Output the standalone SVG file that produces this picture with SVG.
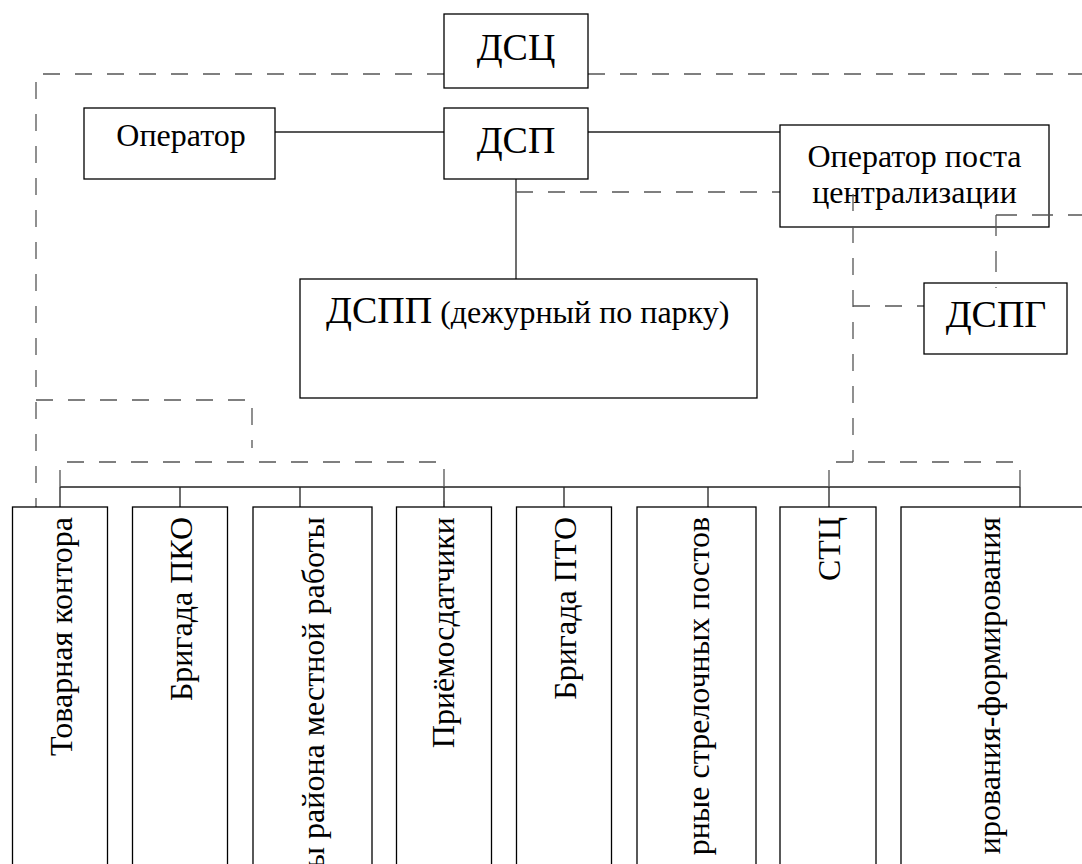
<svg xmlns="http://www.w3.org/2000/svg" width="1082" height="864" viewBox="0 0 1082 864">
<style>
.box{fill:#fff;stroke:#000;stroke-width:1.3}
.s{fill:none;stroke:#222;stroke-width:1.3}
.d{fill:none;stroke:#555;stroke-width:1.3;stroke-dasharray:17 15}
</style>
<rect width="1082" height="864" fill="#fff"/>
<g id="connectors">
<path class="s" d="M275,132H444 M588,132H780 M516,179V279"/>
<path class="s" d="M60,487H1020 M60,487V507 M180,487V507 M300,487V507 M444,487V507 M564,487V507 M708,487V507 M829,487V507 M1020,487V507"/>
<path class="d" d="M444,74H36V507"/>
<path class="d" d="M588,74H1082"/>
<path class="d" d="M36,400H252V448"/>
<path class="d" d="M60,487V462H444V507"/>
<path class="d" d="M516,192H780"/>
<path class="d" d="M829,487V462H1020V487"/>
<path class="d" d="M853,306H924"/>
</g>
<g fill="#000" font-family="Liberation Serif, Times New Roman, serif">
<g id="n-dsc"><rect class="box" x="444" y="14" width="144" height="74"/><text x="516" y="60" font-size="38" text-anchor="middle">ДСЦ</text></g>
<g id="n-operator"><rect class="box" x="84" y="108" width="191" height="71"/><text x="181" y="146" font-size="32" text-anchor="middle">Оператор</text></g>
<g id="n-dsp"><rect class="box" x="444" y="108" width="144" height="71"/><text x="516" y="153" font-size="38" text-anchor="middle">ДСП</text></g>
<g id="n-opc"><rect class="box" x="780" y="125" width="269" height="102"/><text x="914.5" y="167" font-size="32" text-anchor="middle">Оператор поста</text><text x="914.5" y="203" font-size="32" text-anchor="middle">централизации</text></g>
<g id="n-dspp"><rect class="box" x="300" y="279" width="457" height="119"/><text x="326" y="323"><tspan font-size="38">ДСПП</tspan><tspan font-size="32"> (дежурный по парку)</tspan></text></g>
<g id="n-dspg"><rect class="box" x="924" y="283" width="143" height="71"/><text x="996" y="327" font-size="38" text-anchor="middle">ДСПГ</text></g>
<g id="connectors-over">
<path class="d" d="M853,194V462"/>
<path class="d" d="M996,215H1082 M996,215V288" style="stroke-dasharray:21 15"/>
</g>
<g id="b1"><rect class="box" x="12.5" y="507" width="95" height="400"/><text font-size="32" text-anchor="end" transform="translate(72,517) rotate(-90)">Товарная контора</text></g>
<g id="b2"><rect class="box" x="132.5" y="507" width="95" height="400"/><text font-size="32" text-anchor="end" transform="translate(192,517) rotate(-90)">Бригада ПКО</text></g>
<g id="b3"><rect class="box" x="253" y="507" width="119" height="400"/><text font-size="32" text-anchor="end" transform="translate(324,517) rotate(-90)">ы района местной работы</text></g>
<g id="b4"><rect class="box" x="396.5" y="507" width="95" height="400"/><text font-size="32" text-anchor="end" transform="translate(454,517) rotate(-90)">Приёмосдатчики</text></g>
<g id="b5"><rect class="box" x="516.5" y="507" width="95" height="400"/><text font-size="32" text-anchor="end" transform="translate(576,517) rotate(-90)">Бригада ПТО</text></g>
<g id="b6"><rect class="box" x="637" y="507" width="119" height="400"/><text font-size="32" text-anchor="end" transform="translate(709,517) rotate(-90)">рные стрелочных постов</text></g>
<g id="b7"><rect class="box" x="780" y="507" width="96" height="400"/><text font-size="32" text-anchor="end" transform="translate(840,517) rotate(-90)">СТЦ</text></g>
<g id="b8"><rect class="box" x="901" y="507" width="240" height="400"/><text font-size="32" text-anchor="end" transform="translate(1000,517) rotate(-90)">ирования-формирования</text></g>
</g>
</svg>
